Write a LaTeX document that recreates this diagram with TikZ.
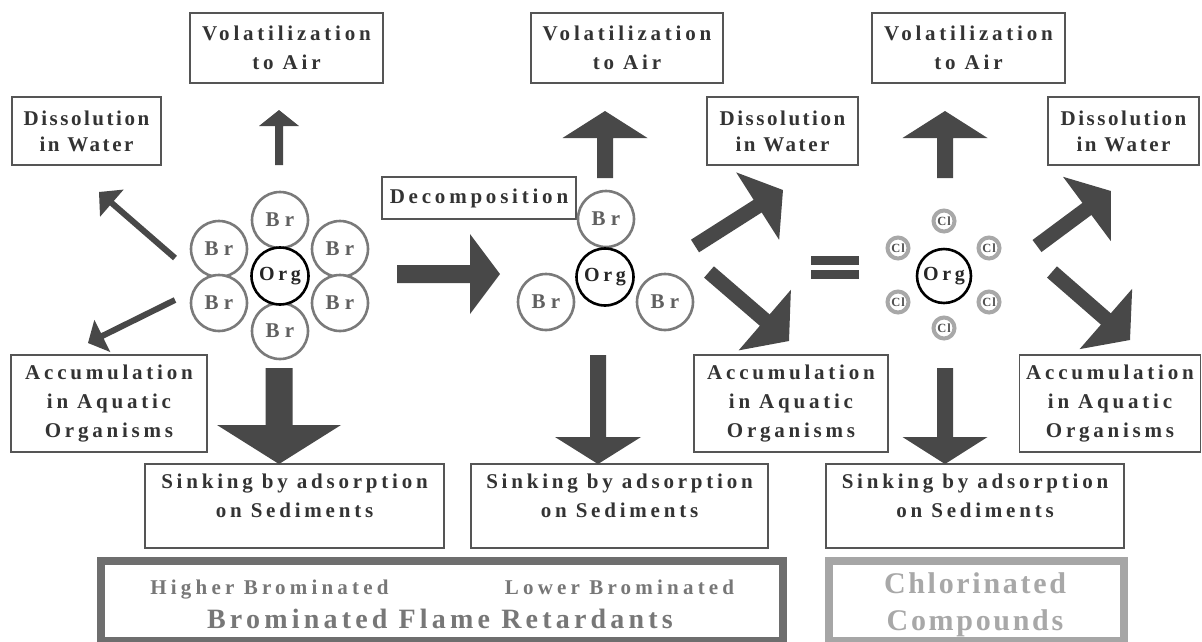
\documentclass[tikz,border=0pt]{standalone}
\usepackage{fontspec}
\setmainfont{Liberation Serif}
\newfontfamily\lsA{Liberation Serif}[LetterSpace=18]
\newfontfamily\lsB{Liberation Serif}[LetterSpace=12]
\newfontfamily\lsC{Liberation Serif}[LetterSpace=25]
\newfontfamily\lsD{Liberation Serif}[LetterSpace=20]
\newfontfamily\lsE{Liberation Serif}[LetterSpace=9]
\newfontfamily\lsF{Liberation Serif}[LetterSpace=15]
\newfontfamily\lsG{Liberation Serif}[LetterSpace=8]
\usetikzlibrary{calc}
\definecolor{boxgray}{HTML}{555555}
\definecolor{txtgray}{HTML}{333333}
\definecolor{brgray}{HTML}{7A7A7A}
\definecolor{brtext}{HTML}{606060}
\definecolor{clgray}{HTML}{A8A8A8}
\definecolor{cltext}{HTML}{505050}
\definecolor{arrowgray}{HTML}{484848}
\definecolor{bfrgray}{HTML}{6E6E6E}
\definecolor{bfrtext}{HTML}{777777}
\definecolor{chlgray}{HTML}{A6A6A6}
\definecolor{chltext}{HTML}{A8A8A8}
% #1 tail, #2 tip, #3 shaft width, #4 head width, #5 head length
\newcommand\fatarrow[5]{%
  \fill[arrowgray] let \p1=(#1), \p2=(#2),
    \n1={atan2(\y2-\y1,\x2-\x1)}, \n2={veclen(\x2-\x1,\y2-\y1)} in
    ([shift={(\p1)},rotate=\n1]0pt,#3pt/2)
 -- ([shift={(\p1)},rotate=\n1]\n2-#5pt,#3pt/2)
 -- ([shift={(\p1)},rotate=\n1]\n2-#5pt,#4pt/2)
 -- ([shift={(\p1)},rotate=\n1]\n2+0pt,0pt)
 -- ([shift={(\p1)},rotate=\n1]\n2-#5pt,-#4pt/2)
 -- ([shift={(\p1)},rotate=\n1]\n2-#5pt,-#3pt/2)
 -- ([shift={(\p1)},rotate=\n1]0pt,-#3pt/2) -- cycle;}
\begin{document}
\begin{tikzpicture}[x=1pt,y=-1pt,
  box/.style={draw=boxgray, line width=1.8pt, fill=white, inner sep=0pt, align=center,
    text=txtgray, font=\lsA\bfseries\fontsize{21}{29}\selectfont},
  dbox/.style={box, font=\lsB\bfseries\fontsize{21}{26}\selectfont},
  brc/.style={circle, draw=brgray, line width=2.6pt, fill=white, minimum size=56pt, inner sep=0pt,
    text=brtext, font=\lsC\bfseries\fontsize{21}{24}\selectfont},
  orgc/.style={circle, draw=black, line width=2.6pt, fill=white, minimum size=57pt, inner sep=0pt,
    text=black!85, font=\lsA\bfseries\fontsize{20}{24}\selectfont},
  clc/.style={circle, draw=clgray, line width=4pt, fill=white, minimum size=21pt, inner sep=0pt,
    text=cltext, font=\lsG\bfseries\fontsize{12.5}{14}\selectfont},
  flbl/.style={anchor=base, inner sep=0pt}]
\useasboundingbox (0,0) rectangle (1202,641);
\fill[white] (0,0) rectangle (1202,641);

% ---- boxes ----
\node[box, minimum width=193pt, minimum height=70pt] (vol1) at (286.5,48) {Volatilization\\to Air};
\node[box, minimum width=192pt, minimum height=70pt] (vol2) at (627,48) {Volatilization\\to Air};
\node[box, minimum width=193pt, minimum height=70pt] (vol3) at (968.5,48) {Volatilization\\to Air};
\node[dbox, minimum width=149pt, minimum height=68pt] (diss1) at (86.5,131) {Dissolution\\in Water};
\node[dbox, minimum width=151pt, minimum height=68pt] (diss2) at (782.5,131) {Dissolution\\in Water};
\node[dbox, minimum width=151pt, minimum height=68pt] (diss3) at (1123.5,131) {Dissolution\\in Water};
\node[box, minimum width=194pt, minimum height=42pt] (decomp) at (479,198) {Decomposition};
\node[box, minimum width=196pt, minimum height=97pt] (acc1) at (109,403.5) {Accumulation\\in Aquatic\\Organisms};
\node[box, minimum width=194pt, minimum height=97pt] (acc2) at (791,403.5) {Accumulation\\in Aquatic\\Organisms};
\node[box, minimum width=181pt, minimum height=97pt] (acc3) at (1110,403.5) {Accumulation\\in Aquatic\\Organisms};
\node[box, minimum width=299pt, minimum height=84pt] (sink1) at (294.5,506) {Sinking by adsorption\\on Sediments\\[-8pt]\mbox{}};
\node[box, minimum width=297pt, minimum height=84pt] (sink2) at (619.5,506) {Sinking by adsorption\\on Sediments\\[-8pt]\mbox{}};
\node[box, minimum width=298pt, minimum height=84pt] (sink3) at (975,506) {Sinking by adsorption\\on Sediments\\[-8pt]\mbox{}};

% ---- molecule 1 ----
\node[brc] (m1a) at (280,220) {Br};
\node[brc] (m1b) at (219,249) {Br};
\node[brc] (m1c) at (340,249) {Br};
\node[brc] (m1d) at (219,303) {Br};
\node[brc] (m1e) at (340,303) {Br};
\node[brc] (m1f) at (280,331) {Br};
\node[orgc] (org1) at (280,276) {Org};

% ---- molecule 2 ----
\node[brc] (m2a) at (606,219) {Br};
\node[brc] (m2b) at (546,302) {Br};
\node[brc] (m2c) at (665,302) {Br};
\node[orgc] (org2) at (605,277) {Org};

% ---- molecule 3 ----
\node[clc] (m3a) at (944,221) {Cl};
\node[clc] (m3b) at (898,248) {Cl};
\node[clc] (m3c) at (989,248) {Cl};
\node[clc] (m3d) at (898,302) {Cl};
\node[clc] (m3e) at (989,302) {Cl};
\node[clc] (m3f) at (944,328) {Cl};
\node[orgc, minimum size=54pt] (org3) at (944,276) {Org};

% ---- equals sign ----
\fill[arrowgray] (811,256) rectangle (859,265);
\fill[arrowgray] (811,270) rectangle (859,279);

% ---- arrow end points ----
\coordinate (t1u) at (279,165);  \coordinate (h1u) at (279,110);
\coordinate (t1d) at (175,258);  \coordinate (h1d) at (99,192);
\coordinate (t1a) at (175,300);  \coordinate (h1a) at (88,343);
\coordinate (t1s) at (279,368);  \coordinate (h1s) at (279,464);
\coordinate (tdc) at (397,274);  \coordinate (hdc) at (500,274);
\coordinate (t2u) at (605,178);  \coordinate (h2u) at (605,111);
\coordinate (t2d) at (695,246);  \coordinate (h2d) at (783,190);
\coordinate (t2a) at (709,272);  \coordinate (h2a) at (789,341);
\coordinate (t2s) at (598,355);  \coordinate (h2s) at (598,464);
\coordinate (t3u) at (945,178);  \coordinate (h3u) at (945,111);
\coordinate (t3d) at (1037,246); \coordinate (h3d) at (1111,191);
\coordinate (t3a) at (1052,272); \coordinate (h3a) at (1130,340);
\coordinate (t3s) at (945,368);  \coordinate (h3s) at (945,464);

\fatarrow{t1u}{h1u}{8}{40}{16}
\fatarrow{t1d}{h1d}{6}{36}{17}
\fatarrow{t1a}{h1a}{6}{36}{16}
\fatarrow{t1s}{h1s}{27}{124}{39}
\fatarrow{tdc}{hdc}{18}{80}{30}
\fatarrow{t2u}{h2u}{16}{85}{27}
\fatarrow{t2d}{h2d}{15}{80}{30}
\fatarrow{t2a}{h2a}{15}{80}{32}
\fatarrow{t2s}{h2s}{16}{86}{27}
\fatarrow{t3u}{h3u}{16}{85}{27}
\fatarrow{t3d}{h3d}{15}{80}{30}
\fatarrow{t3a}{h3a}{15}{80}{32}
\fatarrow{t3s}{h3s}{16}{85}{27}

% ---- bottom frames ----
\draw[bfrgray, line width=8pt] (101,561) rectangle (783,641);
\draw[chlgray, line width=8pt] (829,561) rectangle (1124,641);
\node[flbl, text=bfrtext, font=\lsD\bfseries\fontsize{21}{24}\selectfont] (higher) at (269.5,594) {Higher Brominated};
\node[flbl, text=bfrtext, font=\lsD\bfseries\fontsize{21}{24}\selectfont] (lower) at (619.5,594) {Lower Brominated};
\node[flbl, text=bfrtext, font=\lsF\bfseries\fontsize{28}{32}\selectfont] (bfr) at (440,628) {Brominated Flame Retardants};
\node[flbl, text=chltext, font=\lsE\bfseries\fontsize{30}{34}\selectfont] (chl1) at (975,593) {Chlorinated};
\node[flbl, text=chltext, font=\lsE\bfseries\fontsize{30}{34}\selectfont] (chl2) at (975,630) {Compounds};
\end{tikzpicture}
\end{document}
